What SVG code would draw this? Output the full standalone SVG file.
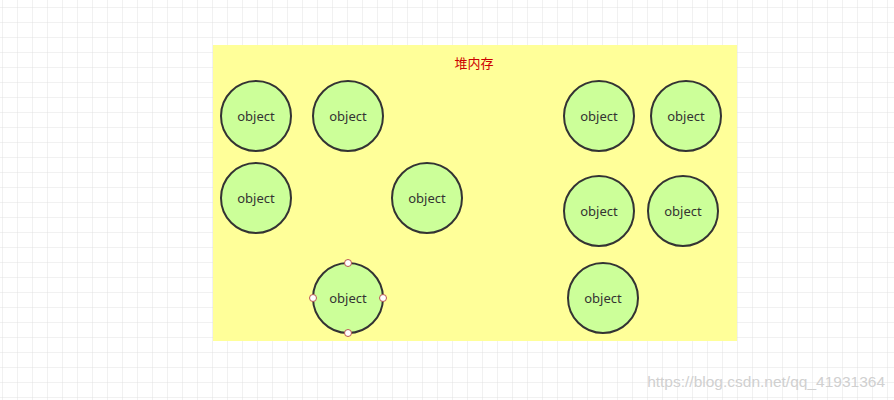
<svg xmlns="http://www.w3.org/2000/svg" width="894" height="400" viewBox="0 0 894 400">
<defs>
<pattern id="g" x="3" y="8" width="15" height="15" patternUnits="userSpaceOnUse">
<path d="M15 0V15M0 15H15" fill="none" stroke="#e2e2e2" stroke-width="1"/>
</pattern>
<style>
.n circle.o{fill:#CCFF99;stroke:#333;stroke-width:2}
.n text{font-family:"Microsoft YaHei","Noto Sans","Liberation Sans",sans-serif;font-size:13px;fill:#333;text-anchor:middle}
.h{fill:#fff;stroke:#b85450;stroke-width:1}
</style>
</defs>
<rect width="894" height="400" fill="#fff"/>
<rect width="894" height="400" fill="url(#g)"/>
<g id="heap">
<rect x="213" y="45" width="524" height="296" fill="#FFFF99"/>
<text x="474" y="68" font-family="'Noto Sans CJK SC',sans-serif" font-size="13" fill="#CC0000" text-anchor="middle">堆内存</text>
</g>
<g id="connectors"></g>
<g id="n1" class="n"><circle class="o" cx="256" cy="116" r="35"/><text x="256" y="121">object</text></g>
<g id="n2" class="n"><circle class="o" cx="348" cy="116" r="35"/><text x="348" y="121">object</text></g>
<g id="n3" class="n"><circle class="o" cx="256" cy="198" r="35"/><text x="256" y="203">object</text></g>
<g id="n4" class="n"><circle class="o" cx="427" cy="198" r="35"/><text x="427" y="203">object</text></g>
<g id="n5" class="n"><circle class="o" cx="348" cy="298" r="35"/><text x="348" y="303">object</text>
<circle class="h" cx="348" cy="263" r="3.5"/><circle class="h" cx="348" cy="333" r="3.5"/><circle class="h" cx="313" cy="298" r="3.5"/><circle class="h" cx="383" cy="298" r="3.5"/></g>
<g id="n6" class="n"><circle class="o" cx="599" cy="116" r="35"/><text x="599" y="121">object</text></g>
<g id="n7" class="n"><circle class="o" cx="686" cy="116" r="35"/><text x="686" y="121">object</text></g>
<g id="n8" class="n"><circle class="o" cx="599" cy="211" r="35"/><text x="599" y="216">object</text></g>
<g id="n9" class="n"><circle class="o" cx="683" cy="211" r="35"/><text x="683" y="216">object</text></g>
<g id="n10" class="n"><circle class="o" cx="603" cy="298" r="35"/><text x="603" y="303">object</text></g>
<text x="885" y="387" font-family="'Liberation Sans',sans-serif" font-size="15.5" fill="#d0d0d0" text-anchor="end">https://blog.csdn.net/qq_41931364</text>
</svg>
